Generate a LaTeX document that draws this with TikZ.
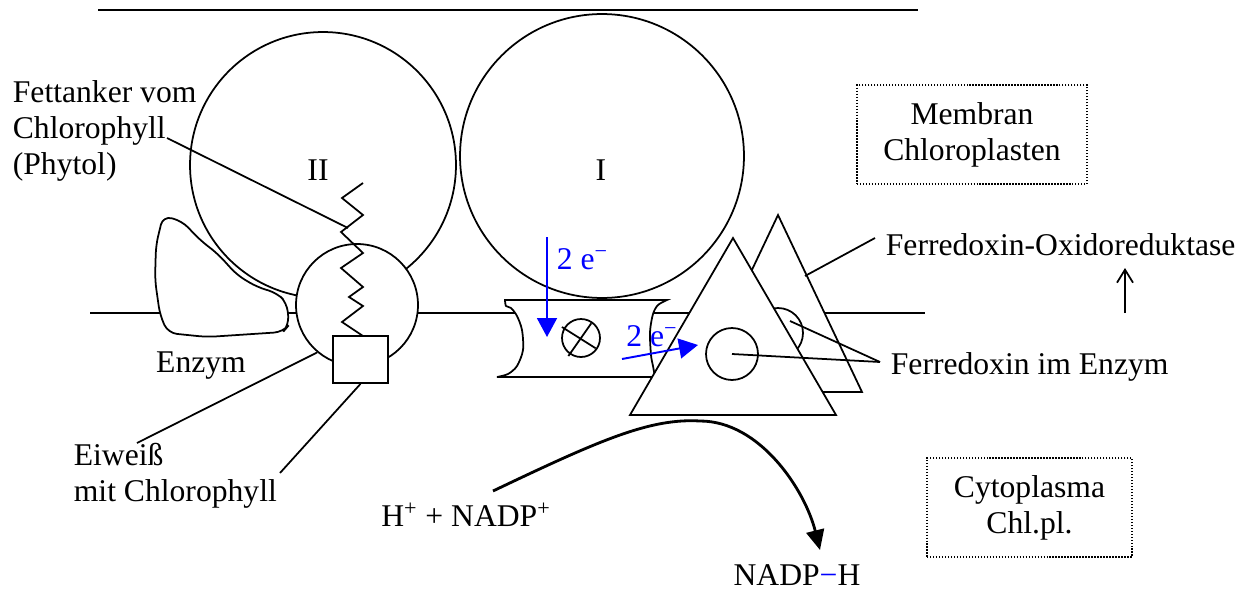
\documentclass[tikz,border=0pt]{standalone}
\usepackage{fontspec}
\setmainfont{Liberation Serif}
\usepackage{tikz}
\usetikzlibrary{positioning, arrows.meta, calc}

\begin{document}
\begin{tikzpicture}[x=0.02cm, y=-0.02cm, line width=1pt,
	txt/.style={font=\fontsize{18}{20.5}\selectfont, inner sep=0pt},
	ring/.style={circle, draw, fill=white, inner sep=0pt},
	tagbox/.style={draw, line width=0.8pt, dash pattern=on 0.8pt off 0.9pt, align=center, font=\fontsize{18}{20.5}\selectfont},
	eflow/.style={blue, line width=1.1pt, -{Triangle[length=0.38cm, width=0.4cm]}},
	react/.style={line width=1.6pt, -{Triangle[length=0.4cm, width=0.36cm]}}]
	\useasboundingbox (0,0) rectangle (1251,592);
	
	% Thylakoid membrane
	\draw[line width=1.2pt] (98,10) -- (918,10);
	\draw (90,313) -- (925,313);
	
	% Photosystems
	\node[circle, draw, minimum size=5.32cm, inner sep=0pt] (psII) at (323,165) {};
	\node[circle, draw, minimum size=5.68cm, inner sep=0pt] (psI) at (602,156) {};
	\node[txt] (lII) at (318,170) {II};
	\node[txt] (lI) at (601,170) {I};
	
	% Enzyme (irregular body)
	\draw[fill=white, rounded corners=5pt] (163,216) -- (182,221) -- (200,240) -- (218,254) -- (237,275) -- (257,287) -- (277,293) -- (287,303) -- (289,325) -- (283,332) -- (207,337) -- (168,333) -- (160,315) -- (155,280) -- (156,245) -- cycle;
	
	% Protein with chlorophyll
	\node[ring, minimum size=2.44cm] (prot) at (357,305) {};
	\draw (363,183) -- (342,198) -- (363,215) -- (341,232) -- (363,253) -- (341,268) -- (363,287) -- (349,297) -- (363,306) -- (342,322) -- (363,336);
	\node[draw, fill=white, minimum width=1.1cm, minimum height=0.94cm, inner sep=0pt] (chl) at (360.5,359.5) {};
	
	% Channel between the photosystems
	\draw[fill=white] (505,300) -- (667,300) -- plot[smooth] coordinates {(667,300) (658,305) (653,314) (650,332) (651,355) (653,366) (655,377)} -- (497,377) -- plot[smooth] coordinates {(497,377) (508,374) (517,366) (523,350) (522,330) (517,316) (511,308) (506,306) (505,300)} -- cycle;
	\node[circle, draw, minimum size=0.76cm, inner sep=0pt] (xm) at (581,338) {};
	\draw ($(xm)+(150:0.44cm)$) -- ($(xm)+(-35:0.36cm)$);
	\draw ($(xm)+(235:0.44cm)$) -- ($(xm)+(55:0.36cm)$);
	
	% Ferredoxin-oxidoreductase
	\draw[fill=white] (778,215) -- (862,392) -- (694,392) -- cycle;
	\node[ring, minimum size=1.0cm] (fdb) at (778,333) {};
	\draw[fill=white] (733,238) -- (836,415) -- (630,415) -- cycle;
	\node[ring, minimum size=1.04cm] (fdf) at (732,354) {};
	
	% Labels
	\node[txt, align=left, anchor=west] (fett) at (12,131) {Fettanker vom\\Chlorophyll\\(Phytol)};
	\node[txt] (enz) at (201,366) {Enzym};
	\node[txt, align=left, anchor=west] (eiw) at (73,476) {Eiweiß\\mit Chlorophyll};
	\node[txt, anchor=west] (oxr) at (885,245) {Ferredoxin-Oxidoreduktase};
	\node[txt, anchor=west] (fdx) at (890,367) {Ferredoxin im Enzym};
	\node[txt] (hn) at (466,515) {H\textsuperscript{+} + NADP\textsuperscript{+}};
	\node[txt] (nh) at (797,575) {NADP{\color{blue}−}H};
	\node[tagbox, minimum width=4.6cm, minimum height=1.98cm] (memb) at (972,134.5) {Membran\\Chloroplasten};
	\node[tagbox, minimum width=4.1cm, minimum height=1.98cm] (cyto) at (1029.5,507.5) {Cytoplasma\\Chl.pl.};
	
	% Pointer lines
	\coordinate (fetta) at (167,138);
	\coordinate (zz) at (348,228);
	\coordinate (eiwa) at (137,443);
	\coordinate (chla) at (280,473);
	\coordinate (fdbin) at (790,321);
	\coordinate (fdxa) at (880,362);
	\coordinate (oxa) at (805,276);
	\coordinate (oxb) at (875,238);
	\draw (fetta) -- (zz);
	\draw (eiwa) -- (prot.230);
	\draw (chla) -- (chl.south);
	\draw (fdf.center) -- (fdxa);
	\draw (fdbin) -- (fdxa);
	\draw (oxa) -- (oxb);
	\coordinate (upa) at (1125,313);
	\coordinate (upb) at (1125,268);
	\draw[-{Straight Barb[length=0.26cm, width=0.32cm]}] (upa) -- (upb);
	
	% Electron transport
	\coordinate (e1a) at (547,237);
	\coordinate (e1b) at (547,337);
	\coordinate (e2a) at (622,359);
	\coordinate (e2b) at (698,345);
	\draw[eflow] (e1a) -- (e1b);
	\draw[eflow] (e2a) -- (e2b);
	\node[txt, blue, anchor=west] (e1) at (556,259) {2 e\textsuperscript{−}};
	\node[txt, blue] (e2) at (652,336) {2 e\textsuperscript{−}};
	
	% NADP reduction
	\coordinate (hnout) at (493,491);
	\coordinate (nhin) at (820,550);
	\draw[react] (hnout) .. controls (600,440) and (650,418) .. (700,421) .. controls (760,421) and (805,490) .. (nhin);
\end{tikzpicture}
\end{document}
